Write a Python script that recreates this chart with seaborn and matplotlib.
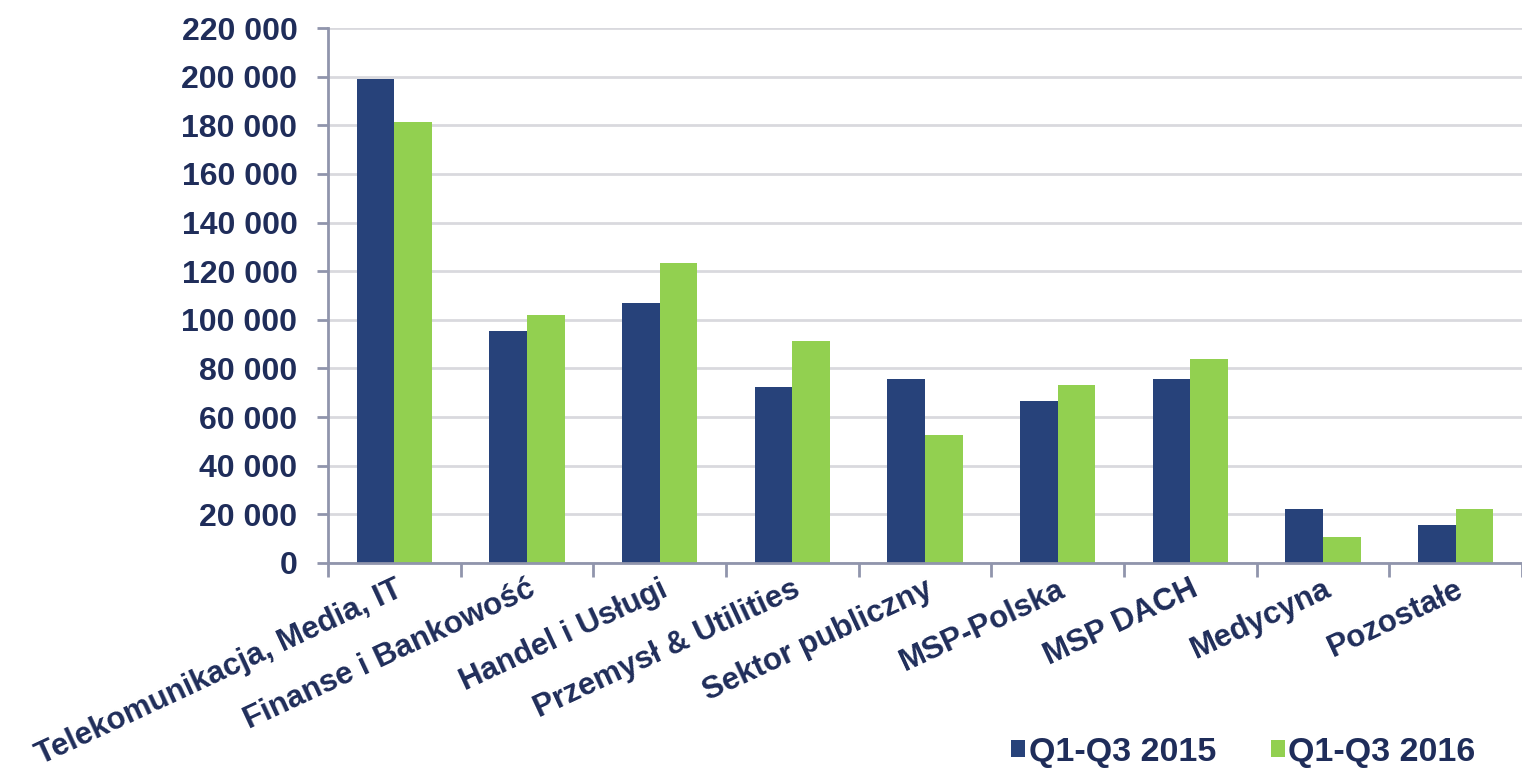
import matplotlib
matplotlib.use("Agg")
import matplotlib.pyplot as plt
import seaborn as sns
import pandas as pd
from matplotlib.patches import Patch
from matplotlib.ticker import FuncFormatter, FixedLocator

categories = ["Telekomunikacja, Media, IT", "Finanse i Bankowość", "Handel i Usługi",
              "Przemysł & Utilities", "Sektor publiczny", "MSP-Polska", "MSP DACH",
              "Medycyna", "Pozostałe"]
series_names = ["Q1-Q3 2015", "Q1-Q3 2016"]
values_2015 = [199200, 95300, 106800, 72300, 75600, 66500, 75600, 22200, 15600]
values_2016 = [181500, 101800, 123200, 91200, 52600, 73100, 83800, 10700, 22200]

df = pd.DataFrame({
    "cat": categories * 2,
    "series": [series_names[0]] * len(categories) + [series_names[1]] * len(categories),
    "val": values_2015 + values_2016,
})

sns.set_theme(style="white")
plt.rcParams["font.family"] = ["Liberation Sans", "DejaVu Sans"]
plt.rcParams["font.weight"] = "bold"

navy = "#27427A"
green = "#92D050"
txt = "#1F2D5A"
axc = "#9095AC"

fig = plt.figure(figsize=(15.22, 7.74), dpi=100)
ax = fig.add_axes([328 / 1522, 1 - 563 / 774, 1 - 328 / 1522, (563 - 28) / 774])

sns.barplot(data=df, x="cat", y="val", hue="series", order=categories,
            hue_order=series_names, palette=[navy, green], width=0.57,
            gap=0, saturation=1, ax=ax, legend=False, edgecolor="none")

ax.set_xlim(-0.5, len(categories) - 0.5)
ax.set_ylim(0, 220000)
ax.set_yticks(range(0, 220001, 20000))
ax.yaxis.set_major_formatter(FuncFormatter(lambda v, p: f"{int(v):,}".replace(",", " ")))
ax.grid(axis="y", color="#D9D9DE", linewidth=2)
ax.set_axisbelow(True)
ax.set_xlabel("")
ax.set_ylabel("")

for s in ["top", "right"]:
    ax.spines[s].set_visible(False)
for s in ["left", "bottom"]:
    ax.spines[s].set_color(axc)
    ax.spines[s].set_linewidth(2)

ax.tick_params(axis="y", which="major", left=True, length=8, width=2, color=axc,
               labelsize=23, labelcolor=txt, pad=14)
ax.tick_params(axis="x", which="major", bottom=False, labelsize=22.5, labelcolor=txt, pad=2)
ax.xaxis.set_minor_locator(FixedLocator([i - 0.5 for i in range(len(categories) + 1)]))
ax.tick_params(axis="x", which="minor", bottom=True, length=10, width=2, color=axc)
for lab in ax.get_yticklabels():
    lab.set_fontweight("bold")
for lab in ax.get_xticklabels():
    lab.set_rotation(25)
    lab.set_ha("right")
    lab.set_rotation_mode("anchor")
    lab.set_fontweight("bold")

handles = [Patch(facecolor=navy, edgecolor="none"), Patch(facecolor=green, edgecolor="none")]
fig.legend(handles, series_names, loc="center left", bbox_to_anchor=(994 / 1522, 1 - 752 / 774),
           ncol=2, frameon=False, borderpad=0, handlelength=0.42, handleheight=0.42,
           handletextpad=0.1, columnspacing=1.6, prop={"size": 24.5, "weight": "bold"},
           labelcolor=txt)

fig.savefig("out.png", dpi=100)
